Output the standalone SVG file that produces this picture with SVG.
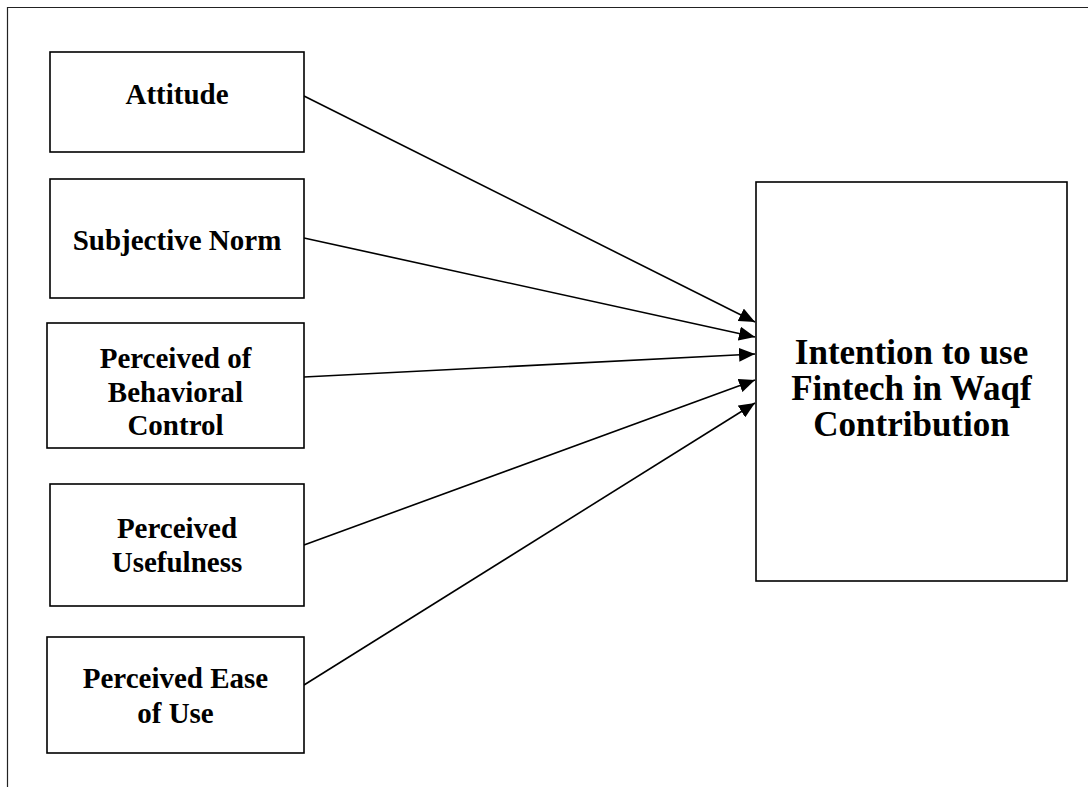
<svg xmlns="http://www.w3.org/2000/svg" width="1088" height="787" viewBox="0 0 1088 787">
<style>
.box{fill:#fff;stroke:#000;stroke-width:1.6}
.t{font-family:"Liberation Serif","Times New Roman",serif;font-weight:bold;font-size:29px;fill:#000;text-anchor:middle}
.big{font-size:35px}
.c{stroke:#000;stroke-width:1.6;fill:none;marker-end:url(#ah)}
</style>
<defs>
<marker id="ah" markerUnits="userSpaceOnUse" markerWidth="18" markerHeight="14" refX="16" refY="7" orient="auto">
<path d="M0,0 L16,7 L0,14 Z" fill="#000"/>
</marker>
</defs>
<rect width="1088" height="787" fill="#fff"/>
<path d="M7.5,787 V7.5 H1088" fill="none" stroke="#222" stroke-width="1.2"/>
<g id="connectors">
<line class="c" x1="304" y1="96" x2="755" y2="322"/>
<line class="c" x1="304" y1="238" x2="755" y2="337"/>
<line class="c" x1="304" y1="377" x2="755" y2="354"/>
<line class="c" x1="304" y1="545" x2="755" y2="380"/>
<line class="c" x1="304" y1="685" x2="755" y2="403"/>
</g>
<g id="attitude">
<rect class="box" x="50" y="52" width="254" height="100"/>
<text class="t" x="177" y="104">Attitude</text>
</g>
<g id="subjective-norm">
<rect class="box" x="50" y="179" width="254" height="119"/>
<text class="t" x="177" y="250">Subjective Norm</text>
</g>
<g id="pbc">
<rect class="box" x="47" y="323" width="257" height="125"/>
<text class="t" x="175.5" y="368">Perceived of</text>
<text class="t" x="175.5" y="402">Behavioral</text>
<text class="t" x="175.5" y="435">Control</text>
</g>
<g id="usefulness">
<rect class="box" x="50" y="484" width="254" height="122"/>
<text class="t" x="177" y="538">Perceived</text>
<text class="t" x="177" y="572">Usefulness</text>
</g>
<g id="ease-of-use">
<rect class="box" x="47" y="637" width="257" height="116"/>
<text class="t" x="175.5" y="688">Perceived Ease</text>
<text class="t" x="175.5" y="723">of Use</text>
</g>
<g id="intention">
<rect class="box" x="756" y="182" width="311" height="399" stroke-width="2"/>
<text class="t big" x="911.5" y="364">Intention to use</text>
<text class="t big" x="911.5" y="400">Fintech in Waqf</text>
<text class="t big" x="911.5" y="436">Contribution</text>
</g>
</svg>
